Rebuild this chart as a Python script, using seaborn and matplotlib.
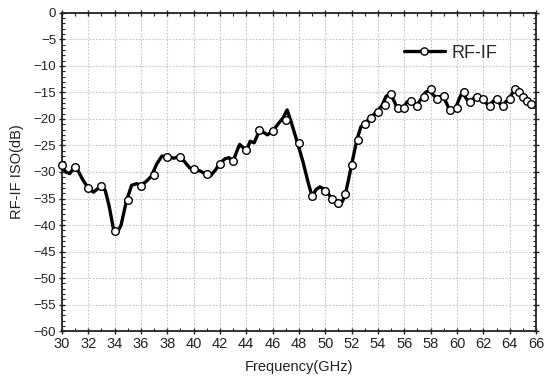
import numpy as np
import pandas as pd
import seaborn as sns
import matplotlib
matplotlib.use("Agg")
import matplotlib.pyplot as plt
from matplotlib.lines import Line2D
from matplotlib.ticker import MultipleLocator
from matplotlib import font_manager

# Dense trace of the curve
line_freq = [30.0, 30.3, 30.6, 30.9, 31.2, 31.6, 32.0, 32.4, 32.7, 33.0, 33.3, 33.6, 33.9, 34.2,
             34.5, 34.9, 35.3, 35.7, 36.0, 36.4, 36.8, 37.2, 37.6, 38.0, 38.5, 38.9, 39.3, 39.7,
             40.0, 40.5, 41.0, 41.3, 41.7, 42.0, 42.4, 42.7, 43.0, 43.3, 43.5, 43.8, 44.0, 44.3,
             44.6, 45.0, 45.3, 45.6, 46.0, 46.4, 46.8, 47.1, 47.4, 47.9, 48.3, 48.7, 49.0, 49.3,
             49.6, 50.0, 50.5, 51.0, 51.2, 51.5, 51.8, 52.0, 52.4, 52.7, 53.0, 53.4, 53.9, 54.3,
             54.6, 54.9, 55.2, 55.5, 55.9, 56.2, 56.5, 56.9, 57.2, 57.6, 57.9, 58.2, 58.5, 58.9,
             59.2, 59.5, 59.9, 60.2, 60.4, 60.9, 61.4, 61.9, 62.4, 62.9, 63.4, 63.9, 64.4, 64.7,
             65.0, 65.3, 65.6, 66.0]
line_iso = [-29.0, -30.0, -30.3, -29.3, -29.6, -31.5, -33.0, -33.8, -33.2, -32.7, -33.5, -36.5, -40.5, -41.5,
            -40.0, -35.5, -32.5, -32.2, -32.5, -31.8, -30.8, -28.5, -27.0, -27.1, -27.4, -27.1, -28.0, -29.2,
            -29.6, -29.8, -30.5, -30.7, -29.5, -28.3, -27.5, -27.3, -28.0, -26.0, -24.8, -25.5, -26.0, -24.2,
            -24.5, -22.2, -22.5, -23.0, -22.3, -21.0, -19.8, -18.3, -20.5, -24.6, -28.0, -32.0, -34.6, -33.3,
            -32.8, -33.4, -35.0, -35.9, -36.0, -34.5, -31.0, -28.6, -23.9, -21.5, -20.7, -19.9, -18.6, -17.5,
            -15.8, -15.2, -16.5, -18.2, -17.9, -16.8, -16.7, -17.5, -16.5, -15.0, -14.6, -15.5, -16.0, -15.6,
            -17.0, -18.8, -17.9, -16.0, -15.0, -16.9, -15.8, -16.2, -17.5, -16.3, -17.5, -16.3, -14.4, -14.9,
            -15.8, -16.7, -17.2, -17.4]

# Measured marker points
mark_freq = [30.0, 31.0, 32.0, 33.0, 34.0, 35.0, 36.0, 37.0, 38.0, 39.0, 40.0, 41.0, 42.0, 43.0,
             44.0, 45.0, 46.0, 47.0, 48.0, 49.0, 50.0, 50.5, 51.0, 51.5, 52.0, 52.5, 53.0, 53.5,
             54.0, 54.5, 55.0, 55.5, 56.0, 56.5, 57.0, 57.5, 58.0, 58.5, 59.0, 59.5, 60.0, 60.5,
             61.0, 61.5, 62.0, 62.5, 63.0, 63.5, 64.0, 64.4, 64.7, 65.0, 65.3, 65.6]
mark_iso = [-28.7, -29.1, -33.0, -32.7, -41.1, -35.3, -32.7, -30.6, -27.1, -27.1, -29.5, -30.4, -28.4, -28.0,
            -25.9, -22.0, -22.3, -20.2, -24.6, -34.5, -33.5, -35.0, -35.9, -34.1, -28.6, -23.9, -20.9, -19.9,
            -18.6, -17.3, -15.3, -17.9, -17.9, -16.7, -17.6, -15.8, -14.3, -16.2, -15.6, -18.4, -17.9, -15.0,
            -16.9, -15.8, -16.2, -17.6, -16.3, -17.6, -16.3, -14.3, -14.9, -15.8, -16.7, -17.2]

series_label = "RF-IF"
x_label = "Frequency(GHz)"
y_label = "RF-IF ISO(dB)"

sns.set_theme(style="white")
plt.rcParams['font.family'] = ['Liberation Sans', 'DejaVu Sans']

installed = {f.name for f in font_manager.fontManager.ttflist}
narrow = 'Liberation Sans Narrow' if 'Liberation Sans Narrow' in installed else 'Liberation Sans'

fig = plt.figure(figsize=(5.47, 3.78), dpi=100)
ax = fig.add_axes([0.113, 0.124, 0.867, 0.842])

df_line = pd.DataFrame({"f": line_freq, "v": line_iso})
df_mark = pd.DataFrame({"f": mark_freq, "v": mark_iso})

sns.lineplot(data=df_line, x="f", y="v", ax=ax, color="black", linewidth=2.4,
             sort=False, estimator=None, zorder=3)
sns.scatterplot(data=df_mark, x="f", y="v", ax=ax, s=30, facecolor="white",
                edgecolor="black", linewidth=1.0, zorder=4, clip_on=False)

ax.set_xlim(30, 66)
ax.set_ylim(-60, 0)
ax.xaxis.set_major_locator(MultipleLocator(2))
ax.xaxis.set_minor_locator(MultipleLocator(1))
ax.yaxis.set_major_locator(MultipleLocator(5))
ax.yaxis.set_minor_locator(MultipleLocator(1))

ax.grid(True, which="major", color="#c4c4c4", linestyle=(0, (1.5, 1.5)), linewidth=0.8, zorder=0)

for sp in ax.spines.values():
    sp.set_visible(True)
    sp.set_color("#222222")
    sp.set_linewidth(1.3)

ax.tick_params(axis="both", which="major", direction="out", length=4, width=1.0,
               colors="#222222", pad=1.5,
               bottom=True, left=True, top=True, right=True)
ax.tick_params(axis="both", which="minor", direction="in", length=2.5, width=0.8,
               bottom=True, left=True, top=True, right=True, colors="#222222")
ax.tick_params(axis="x", which="major", top=True, direction="inout", length=5, labelsize=10.5)
ax.tick_params(axis="y", which="major", right=True, direction="inout", length=5, labelsize=9.5)
for lab in ax.get_xticklabels():
    lab.set_fontfamily([narrow, 'Liberation Sans', 'DejaVu Sans'])

ax.set_xlabel(x_label, fontsize=10.5, labelpad=7, color="#222222")
ax.set_ylabel(y_label, fontsize=10.5, labelpad=7, color="#222222")

handle = Line2D([0], [0], color="black", linewidth=2.4, marker="o", markersize=5.2,
                markerfacecolor="white", markeredgecolor="black")
ax.legend([handle], [series_label], loc="upper right", bbox_to_anchor=(0.945, 0.94),
          frameon=False, fontsize=13, handlelength=2.3, handletextpad=0.35, borderpad=0.2)

fig.savefig("out.png", dpi=100)
